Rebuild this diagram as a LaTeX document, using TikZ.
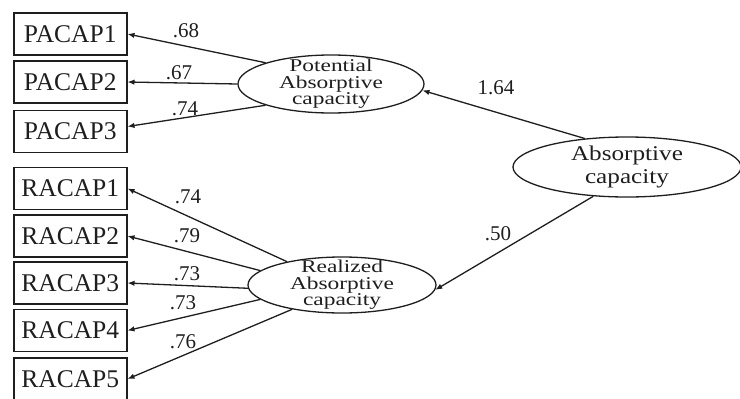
\documentclass[tikz,border=0pt]{standalone}
\usepackage{fontspec}
\setmainfont{Liberation Serif}
\newfontfamily\ellfont[FakeStretch=1.3]{Liberation Serif}
\newfontfamily\bigellfont[FakeStretch=1.2]{Liberation Serif}
\usetikzlibrary{shapes.geometric,arrows.meta,calc}
\definecolor{ink}{HTML}{1E1E1E}
\begin{document}
\begin{tikzpicture}[x=1pt,y=-1pt,
  obs/.style={draw=ink, line width=1.5pt, minimum width=113pt, minimum height=42pt,
    inner sep=0pt, anchor=west, text=ink, font=\fontsize{25.5}{30}\selectfont},
  lat/.style={draw=ink, ellipse, line width=1.3pt, inner sep=0pt},
  lattext/.style={align=center, inner sep=0pt, text=ink, font=\ellfont\fontsize{18}{16.5}\selectfont},
  bigtext/.style={align=center, inner sep=0pt, text=ink, font=\bigellfont\fontsize{21}{23}\selectfont},
  load/.style={draw=ink, line width=1.3pt, -{Latex[length=7pt,width=5.5pt]}},
  coef/.style={inner sep=0pt, text=ink, font=\fontsize{21}{24}\selectfont}]
\useasboundingbox (0,0) rectangle (740,399);

% observed variables
\node[obs] (p1) at (13,34) {PACAP1};
\node[obs] (p2) at (13,82) {PACAP2};
\node[obs] (p3) at (13,131.5) {PACAP3};
\node[obs] (r1) at (13,188.5) {RACAP1};
\node[obs] (r2) at (13,236) {RACAP2};
\node[obs] (r3) at (13,283) {RACAP3};
\node[obs] (r4) at (13,330.5) {RACAP4};
\node[obs] (r5) at (13,379) {RACAP5};

% latent variables
\node[lat, minimum width=186pt, minimum height=58pt] (pot) at (331,84) {};
\node[lattext] (pott) at (pot) {Potential\\Absorptive\\capacity};
\node[lat, minimum width=188pt, minimum height=56pt] (rea) at (342,285) {};
\node[lattext] (reat) at (rea) {Realized\\Absorptive\\capacity};
\node[lat, minimum width=228pt, minimum height=60pt] (abs) at (627,167) {};
\node[bigtext] (abst) at (abs) {Absorptive\\capacity};

% loadings
\draw[load] (pot.162) -- (p1.east);
\draw[load] (pot.180) -- (p2.east);
\draw[load] (pot.198) -- ($(p3.east)+(0,-5)$);
\draw[load] (rea.157) -- (r1.east);
\draw[load] (rea.170) -- (r2.east);
\draw[load] (rea.182) -- (r3.east);
\draw[load] (rea.190) -- (r4.east);
\draw[load] (rea.206) -- (r5.east);
\draw[load] (abs.146) -- (pot.356);
\draw[load] (abs.221) -- (rea.357);

% coefficients
\node[coef] (c1) at (186,31) {.68};
\node[coef] (c2) at (179,73) {.67};
\node[coef] (c3) at (185,109) {.74};
\node[coef] (c4) at (188,197) {.74};
\node[coef] (c5) at (187,236) {.79};
\node[coef] (c6) at (187,274) {.73};
\node[coef] (c7) at (183,303) {.73};
\node[coef] (c8) at (183,342) {.76};
\node[coef] (c9) at (496,88) {1.64};
\node[coef] (c10) at (498,234) {.50};
\end{tikzpicture}
\end{document}
